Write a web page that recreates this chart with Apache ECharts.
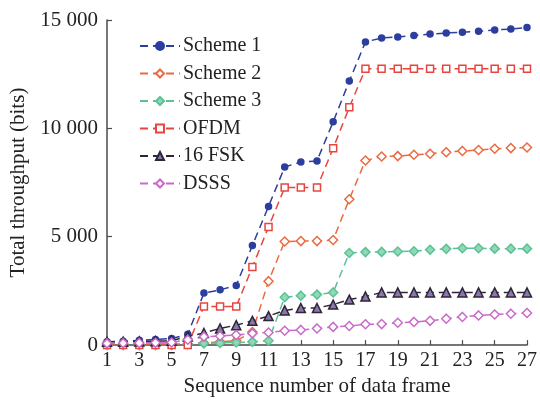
<!DOCTYPE html>
<html>
<head>
<meta charset="utf-8">
<script src="https://cdn.jsdelivr.net/npm/echarts@6/dist/echarts.min.js"></script>
<style>
  html, body { margin: 0; padding: 0; background: #fff; }
  #chart { width: 540px; height: 402px; }
</style>
</head>
<body>
<div id="chart"></div>
<script>
// Sequence number of data frame (1..27)
const frames = ['1','2','3','4','5','6','7','8','9','10','11','12','13','14','15','16','17','18','19','20','21','22','23','24','25','26','27'];

// Total throughput (bits) per scheme
const scheme1 = [150, 180, 220, 260, 300, 500, 2400, 2550, 2750, 4600, 6400, 8220, 8450, 8500, 10300, 12180, 13990, 14170, 14220, 14290, 14350, 14400, 14440, 14480, 14540, 14580, 14650];
const scheme2 = [50, 50, 50, 50, 50, 50, 100, 150, 200, 600, 2950, 4780, 4800, 4800, 4850, 6730, 8520, 8700, 8720, 8780, 8830, 8900, 8960, 9000, 9060, 9090, 9120];
const scheme3 = [0, 0, 0, 0, 0, 50, 80, 100, 120, 150, 200, 2210, 2280, 2330, 2430, 4250, 4290, 4300, 4320, 4330, 4400, 4440, 4470, 4470, 4450, 4450, 4450];
const ofdm    = [0, 0, 0, 0, 0, 0, 1780, 1780, 1780, 3600, 5450, 7270, 7270, 7270, 9080, 10970, 12750, 12750, 12750, 12750, 12750, 12750, 12750, 12750, 12750, 12750, 12750];
const fsk16   = [150, 160, 170, 180, 200, 400, 560, 770, 920, 1120, 1340, 1600, 1710, 1710, 1870, 2100, 2240, 2430, 2430, 2430, 2430, 2430, 2430, 2430, 2430, 2430, 2430];
const dsss    = [80, 90, 100, 110, 120, 250, 390, 420, 470, 540, 580, 660, 700, 770, 840, 880, 960, 970, 1030, 1070, 1120, 1220, 1300, 1370, 1410, 1450, 1480];

// Y-axis tick values
const yTicks = [0, 5000, 10000, 15000];

const FONT = 'Liberation Serif';
const AXIS_COLOR = '#4a4a4a';

function fmtThousands(v) {
  return String(v).replace(/\B(?=(\d{3})+(?!\d))/g, ' ');
}

function lineSeries(name, data, color, symbol, size, fill, border) {
  return {
    name: name,
    type: 'line',
    data: data,
    symbol: symbol,
    symbolSize: size,
    lineStyle: { color: color, width: 1.5, type: [8, 5] },
    itemStyle: { color: fill, borderColor: border || color, borderWidth: 1.5 },
    emphasis: { disabled: true },
    animation: false
  };
}

const chart = echarts.init(document.getElementById('chart'), null, { renderer: 'canvas' });

chart.setOption({
  backgroundColor: '#ffffff',
  textStyle: { fontFamily: FONT },
  grid: { left: 106, right: 11, top: 20, bottom: 50, containLabel: false },
  legend: {
    left: 134,
    top: 31,
    orient: 'vertical',
    itemWidth: 40,
    itemHeight: 10,
    itemGap: 7.5,
    textStyle: { fontFamily: FONT, fontSize: 20, color: '#222', padding: [0, 0, 0, -2] },
    data: ['Scheme 1', 'Scheme 2', 'Scheme 3', 'OFDM', '16 FSK', 'DSSS']
  },
  xAxis: {
    type: 'category',
    data: frames,
    boundaryGap: false,
    name: 'Sequence number of data frame',
    nameLocation: 'middle',
    nameGap: 29,
    nameTextStyle: { fontFamily: FONT, fontSize: 21, color: '#222' },
    axisLine: { lineStyle: { color: AXIS_COLOR, width: 1.5 } },
    axisTick: { inside: true, length: 5, interval: 1, lineStyle: { color: AXIS_COLOR, width: 1.2 } },
    axisLabel: { interval: 1, fontFamily: FONT, fontSize: 20, color: '#222', margin: 6 },
    splitLine: { show: false }
  },
  yAxis: {
    type: 'value',
    min: yTicks[0],
    max: yTicks[yTicks.length - 1],
    interval: yTicks[1] - yTicks[0],
    name: 'Total throughput (bits)',
    nameLocation: 'middle',
    nameGap: 78,
    nameTextStyle: { fontFamily: FONT, fontSize: 21, color: '#222' },
    axisLine: { show: true, lineStyle: { color: AXIS_COLOR, width: 1.5 } },
    axisTick: { show: true, inside: true, length: 5, lineStyle: { color: AXIS_COLOR, width: 1.2 } },
    axisLabel: { fontFamily: FONT, fontSize: 21, color: '#222', margin: 9, formatter: fmtThousands },
    splitLine: { show: false }
  },
  series: [
    lineSeries('Scheme 1', scheme1, '#2c3e9e', 'circle', 6, '#2c3e9e'),
    lineSeries('Scheme 2', scheme2, '#ea6a42', 'diamond', 9, '#ffffff'),
    lineSeries('Scheme 3', scheme3, '#5cc296', 'diamond', 9, '#8fd9b4'),
    lineSeries('OFDM', ofdm, '#e6463f', 'rect', 7, '#ffffff'),
    lineSeries('16 FSK', fsk16, '#2e2538', 'triangle', 9, '#8a78a8', '#2e2538'),
    lineSeries('DSSS', dsss, '#c96ac9', 'diamond', 9, '#ffffff')
  ]
});
</script>
</body>
</html>
